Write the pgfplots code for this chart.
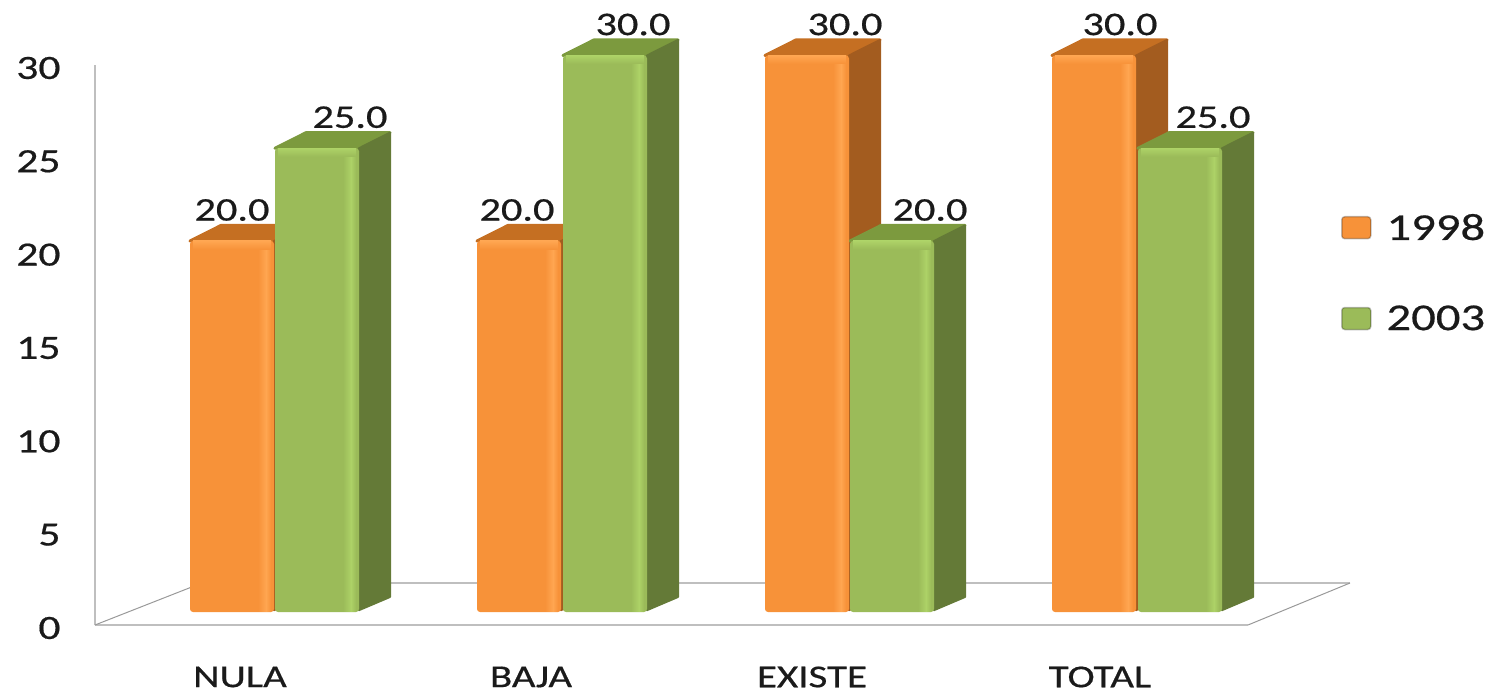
\documentclass[border=0pt]{standalone}
\usepackage{fontspec}
\setmainfont[FakeStretch=1.28,FakeBold=0.5]{Carlito}
\usepackage{pgfplots}
\pgfplotsset{compat=1.18}
\definecolor{ofront}{HTML}{F79239}\definecolor{oside}{HTML}{A35C1F}\definecolor{otop}{HTML}{C56F22}\definecolor{olight}{HTML}{FFA651}
\definecolor{gfront}{HTML}{9BBB59}\definecolor{gside}{HTML}{647A37}\definecolor{gtop}{HTML}{7C9A3E}\definecolor{glight}{HTML}{ADD267}
\definecolor{wall}{HTML}{BFBFBF}\definecolor{ink}{HTML}{1A1A1A}
\newcommand{\boxfaces}[5]{% x, width, value, top colour, side colour
  \pgfmathsetmacro{\xa}{#1}\pgfmathsetmacro{\xb}{#1+#2}
  \pgfmathsetmacro{\xc}{#1+#2+31}\pgfmathsetmacro{\xd}{#1+31}
  \pgfmathsetmacro{\yt}{#3+0.84}\pgfmathsetmacro{\yb}{0.81}
  \edef\tmp{\noexpand\addplot[forget plot,fill=#4,draw=#4,line width=3pt,line join=round] coordinates {(\xa,#3) (\xb,#3) (\xc,\yt) (\xd,\yt)} -- cycle;
  \noexpand\addplot[forget plot,fill=#5,draw=#5,line width=2pt,line join=round] coordinates {(\xb,0.1) (\xc,\yb) (\xc,\yt) (\xb,#3)} -- cycle;}\tmp
}
\newcommand{\highlights}[5]{% x, width, value, light colour, front colour
  \pgfmathsetmacro{\xa}{#1+3}\pgfmathsetmacro{\xb}{#1+#2-3}\pgfmathsetmacro{\ya}{#3-0.45}
  \pgfmathsetmacro{\xm}{#1+#2-16}\pgfmathsetmacro{\xn}{#1+#2-8}
  \edef\tmp{\noexpand\addplot[forget plot,draw=none,left color=#5,right color=#4] coordinates {(\xm,0.05) (\xn,0.05) (\xn,#3) (\xm,#3)} -- cycle;
  \noexpand\addplot[forget plot,draw=none,left color=#4,right color=#5] coordinates {(\xn,0.05) (\xb,0.05) (\xb,#3) (\xn,#3)} -- cycle;
  \noexpand\addplot[forget plot,draw=none,top color=#4,bottom color=#5] coordinates {(\xa,\ya) (\xb,\ya) (\xb,#3) (\xa,#3)} -- cycle;}\tmp
}
\begin{document}
\begin{tikzpicture}[x=1pt,y=1pt]
\path[use as bounding box] (0,0) rectangle (1490,691);
\begin{axis}[
  at={(95pt,66pt)},anchor=south west,scale only axis,width=1153pt,height=560pt,
  xmin=95,xmax=1248,ymin=0,ymax=30,clip=false,
  axis x line*=bottom,axis y line*=left,
  axis line style={wall,line width=2.4pt,-},
  xtick={240,531,812,1100},xticklabels={NULA,BAJA,EXISTE,TOTAL},
  ytick={0,5,10,15,20,25,30},
  major tick length=0pt,
  /pgf/number format/assume math mode=true,
  ticklabel style={text=ink},
  yticklabel style={font=\fontsize{34}{36}\selectfont,xshift=-31pt,yshift=-3pt},
  xticklabel style={font=\fontsize{32}{33}\selectfont,anchor=center,yshift=-52pt,inner sep=0pt,outer sep=0pt},
]
\draw[wall!80!black,line width=1pt] (axis cs:95,0) -- (axis cs:190,2.0);
\draw[wall,line width=2pt] (axis cs:190,2.25) -- (axis cs:1350,2.25);
\draw[wall!80!black,line width=1pt] (axis cs:1248,0) -- (axis cs:1350,2.25);
\end{axis}
\begin{axis}[
  at={(0pt,0pt)},anchor=south west,scale only axis,width=1490pt,height=691pt,
  xmin=0,xmax=1490,ymin=-4.2588,ymax=32.992,clip=false,
  axis lines=none,
  legend style={at={(1341pt,479pt)},anchor=north west,font=\fontsize{38}{40}\selectfont,text=ink,row sep=60pt,inner sep=0pt,outer sep=0pt,draw=none,fill=none},
  legend cell align=left,
  legend image code/.code={\path[#1,draw=black,draw opacity=0.25,line width=1.5pt] (0pt,-11pt) rectangle (29pt,11pt);},
]
\boxfaces{190}{84}{20}{otop}{oside}
\boxfaces{477}{84}{20}{otop}{oside}
\boxfaces{765}{84}{30}{otop}{oside}
\boxfaces{1052}{84}{30}{otop}{oside}
\boxfaces{275}{84}{25}{gtop}{gside}
\boxfaces{563}{84}{30}{gtop}{gside}
\boxfaces{850}{84}{20}{gtop}{gside}
\boxfaces{1138}{84}{25}{gtop}{gside}
\addplot[ybar,bar width=84pt,bar shift=0pt,draw=none,fill=ofront,rounded corners=3pt] coordinates {(232,20) (519,20) (807,30) (1094,30)};
\addlegendentry{\hspace{13pt}1998}
\addplot[ybar,bar width=84pt,bar shift=0pt,draw=none,fill=gfront,rounded corners=3pt] coordinates {(317,25) (605,30) (892,20) (1180,25)};
\addlegendentry{\hspace{13pt}2003}
\highlights{190}{84}{20}{olight}{ofront}
\highlights{477}{84}{20}{olight}{ofront}
\highlights{765}{84}{30}{olight}{ofront}
\highlights{1052}{84}{30}{olight}{ofront}
\highlights{275}{84}{25}{glight}{gfront}
\highlights{563}{84}{30}{glight}{gfront}
\highlights{850}{84}{20}{glight}{gfront}
\highlights{1138}{84}{25}{glight}{gfront}
\addplot[forget plot,draw=none,mark=none,point meta=explicit symbolic,
  nodes near coords,
  nodes near coords style={anchor=center,yshift=31pt,font=\fontsize{33}{35}\selectfont,text=ink,inner sep=0pt}]
  coordinates {(232,20)[20.0] (350,25)[25.0] (517,20)[20.0] (633,30)[30.0]
               (845,30)[30.0] (930,20)[20.0] (1120,30)[30.0] (1213,25)[25.0]};
\end{axis}
\end{tikzpicture}
\end{document}
